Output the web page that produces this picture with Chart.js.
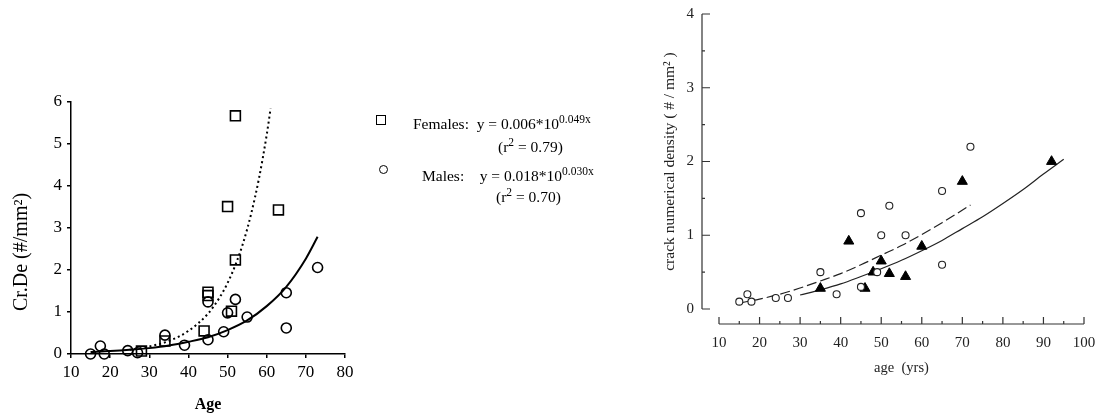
<!DOCTYPE html>
<html>
<head>
<meta charset="utf-8">
<script src="https://cdn.jsdelivr.net/npm/chart.js"></script>
<style>
  body { margin: 0; background: #fff; }
  #wrap { position: relative; width: 1096px; height: 414px; overflow: hidden; }
  canvas { position: absolute; left: 0; top: 0; }
  .lg { position: absolute; font-family: "Liberation Serif", serif; font-size: 15.5px; line-height: 15px; color: #000; white-space: pre; }
  .lg sup { font-size: 11.5px; line-height: 0; vertical-align: 6px; }
  .ytitle { position: absolute; left: -80px; top: 240px; width: 200px; height: 24px; line-height: 24px; text-align: center;
    font-family: "Liberation Serif", serif; font-size: 20px; color: #000; transform: rotate(-90deg); }
  .mk-sq { position: absolute; width: 8px; height: 8px; border: 1.6px solid #000; }
  .mk-ci { position: absolute; width: 7px; height: 7px; border: 1.4px solid #000; border-radius: 50%; }
</style>
</head>
<body>
<div id="wrap">
  <canvas id="leftChart" width="1096" height="414"></canvas>
  <canvas id="rightChart" width="1096" height="414"></canvas>

  <div class="ytitle">Cr.De (#/mm²)</div>

  <div class="mk-sq" style="left:376px; top:115px;"></div>
  <div class="lg" style="left:413px; top:116px;">Females:  y = 0.006*10<sup>0.049x</sup></div>
  <div class="lg" style="left:498px; top:139px;">(r<sup>2</sup> = 0.79)</div>
  <div class="mk-ci" style="left:379px; top:165px;"></div>
  <div class="lg" style="left:422px; top:168px;">Males:    y = 0.018*10<sup>0.030x</sup></div>
  <div class="lg" style="left:496px; top:189px;">(r<sup>2</sup> = 0.70)</div>
</div>

<script>
// left panel: Cr.De vs Age
var femaleAge = [28, 34, 44, 45, 45, 50, 51, 52, 52, 63];
var femaleDensity = [0.07, 0.31, 0.55, 1.47, 1.39, 3.51, 1.02, 2.24, 5.67, 3.43];
var maleAge = [15, 17.5, 18.5, 24.5, 27, 34, 39, 45, 45, 49, 50, 52, 55, 65, 65, 73];
var maleDensity = [0, 0.19, 0, 0.08, 0.03, 0.45, 0.21, 0.34, 1.24, 0.53, 0.98, 1.30, 0.88, 1.46, 0.62, 2.06];

// fitted curves
var femaleFitAge = [25, 30, 35, 40, 45, 48, 50, 52, 54, 56, 58, 60, 61];
var femaleFitDensity = [0.10, 0.18, 0.31, 0.55, 0.96, 1.35, 1.69, 2.12, 2.65, 3.33, 4.17, 5.22, 5.85];
var maleFitAge = [15, 20, 25, 30, 35, 40, 45, 50, 55, 60, 65, 70, 73];
var maleFitDensity = [0.05, 0.07, 0.10, 0.14, 0.20, 0.29, 0.40, 0.57, 0.80, 1.14, 1.60, 2.27, 2.79];

var leftAgeTicks = [10, 20, 30, 40, 50, 60, 70, 80];
var leftDensityTicks = [0, 1, 2, 3, 4, 5, 6];

// right panel: crack numerical density vs age
var openAge = [15, 17, 18, 24, 27, 35, 39, 45, 45, 49, 50, 52, 56, 65, 65, 72];
var openDensity = [0.1, 0.2, 0.1, 0.15, 0.15, 0.5, 0.2, 1.3, 0.3, 0.5, 1.0, 1.4, 1.0, 1.6, 0.6, 2.2];
var filledAge = [35, 42, 46, 48, 50, 52, 56, 60, 70, 92];
var filledDensity = [0.28, 0.92, 0.28, 0.5, 0.65, 0.48, 0.44, 0.85, 1.73, 2.0];

var dashedFitAge = [15, 20, 25, 30, 35, 40, 45, 50, 55, 60, 65, 72];
var dashedFitDensity = [0.08, 0.135, 0.20, 0.285, 0.38, 0.48, 0.60, 0.73, 0.86, 1.01, 1.17, 1.41];
var solidFitAge = [30, 35, 40, 45, 50, 55, 60, 65, 70, 75, 80, 85, 90, 95];
var solidFitDensity = [0.19, 0.26, 0.34, 0.44, 0.545, 0.66, 0.79, 0.93, 1.09, 1.25, 1.43, 1.62, 1.83, 2.03];

var rightAgeTicks = [10, 20, 30, 40, 50, 60, 70, 80, 90, 100];
var rightAgeMinor = [15, 25, 35, 45, 55, 65, 75, 85, 95];
var rightDensityTicks = [0, 1, 2, 3, 4];
var rightDensityMinor = [0.5, 1.5, 2.5, 3.5];

var pairs = function(xs, ys) {
  return xs.map(function(x, i) { return { x: x, y: ys[i] }; });
};

var serifLeft = "'Liberation Serif', 'Times New Roman', serif";

new Chart(document.getElementById('leftChart'), {
  type: 'scatter',
  data: {
    datasets: [{
      label: 'Females',
      data: pairs(femaleAge, femaleDensity),
      pointStyle: 'rect',
      pointRadius: 7,
      borderWidth: 1.6,
      borderColor: '#000',
      backgroundColor: 'rgba(0,0,0,0)',
      clip: false
    }, {
      label: 'Males',
      data: pairs(maleAge, maleDensity),
      pointStyle: 'circle',
      pointRadius: 5,
      borderWidth: 1.6,
      borderColor: '#000',
      backgroundColor: 'rgba(0,0,0,0)',
      clip: false
    }, {
      label: 'Females fit',
      data: pairs(femaleFitAge, femaleFitDensity),
      showLine: true,
      pointRadius: 0,
      borderColor: '#000',
      borderWidth: 2,
      borderDash: [2, 3],
      cubicInterpolationMode: 'monotone',
      clip: false
    }, {
      label: 'Males fit',
      data: pairs(maleFitAge, maleFitDensity),
      showLine: true,
      pointRadius: 0,
      borderColor: '#000',
      borderWidth: 2,
      cubicInterpolationMode: 'monotone',
      clip: false
    }]
  },
  options: {
    responsive: false,
    animation: false,
    events: [],
    layout: { padding: { left: 0, top: 102, right: 751, bottom: 0 } },
    plugins: { legend: { display: false }, tooltip: { enabled: false } },
    scales: {
      x: {
        type: 'linear',
        min: 10,
        max: 80,
        afterBuildTicks: function(s) { s.ticks = leftAgeTicks.map(function(v) { return { value: v }; }); },
        afterFit: function(s) { s.height = 60; },
        grid: { drawOnChartArea: false, color: '#000', tickLength: 4, lineWidth: 1.5 },
        border: { color: '#000', width: 1.5 },
        ticks: { color: '#000', padding: 4, maxRotation: 0, font: { family: serifLeft, size: 17 } },
        title: { display: true, text: 'Age', color: '#000', padding: { top: 0, bottom: 0 },
          font: { family: serifLeft, size: 16, weight: 'bold' } }
      },
      y: {
        min: 0,
        max: 6,
        afterBuildTicks: function(s) { s.ticks = leftDensityTicks.map(function(v) { return { value: v }; }); },
        afterFit: function(s) { s.width = 71; },
        grid: { drawOnChartArea: false, color: '#000', tickLength: 4, lineWidth: 1.5 },
        border: { color: '#000', width: 1.5 },
        ticks: { color: '#000', padding: 5, font: { family: serifLeft, size: 17 } }
      }
    }
  }
});

// the right panel has detached axes, drawn from its scales
var detachedAxes = {
  id: 'detachedAxes',
  afterDraw: function(chart) {
    var ctx = chart.ctx;
    var xs = chart.scales.x, ys = chart.scales.y;
    var axisX = chart.chartArea.left - 17;
    var axisY = chart.chartArea.bottom + 15;
    ctx.save();
    ctx.strokeStyle = '#333';
    ctx.lineWidth = 1.2;
    ctx.beginPath();
    ctx.moveTo(axisX, ys.getPixelForValue(4));
    ctx.lineTo(axisX, ys.getPixelForValue(0));
    rightDensityTicks.forEach(function(v) {
      var py = ys.getPixelForValue(v);
      ctx.moveTo(axisX, py);
      ctx.lineTo(axisX + 8, py);
    });
    rightDensityMinor.forEach(function(v) {
      var py = ys.getPixelForValue(v);
      ctx.moveTo(axisX, py);
      ctx.lineTo(axisX + 3, py);
    });
    ctx.moveTo(xs.getPixelForValue(10), axisY);
    ctx.lineTo(xs.getPixelForValue(100), axisY);
    rightAgeTicks.forEach(function(v) {
      var px = xs.getPixelForValue(v);
      ctx.moveTo(px, axisY);
      ctx.lineTo(px, axisY - 7);
    });
    rightAgeMinor.forEach(function(v) {
      var px = xs.getPixelForValue(v);
      ctx.moveTo(px, axisY);
      ctx.lineTo(px, axisY - 3);
    });
    ctx.stroke();
    ctx.restore();
  }
};

new Chart(document.getElementById('rightChart'), {
  type: 'scatter',
  data: {
    datasets: [{
      label: 'open',
      data: pairs(openAge, openDensity),
      pointStyle: 'circle',
      pointRadius: 3.5,
      borderWidth: 1.1,
      borderColor: '#222',
      backgroundColor: '#fff',
      clip: false
    }, {
      label: 'filled',
      data: pairs(filledAge, filledDensity),
      pointStyle: 'triangle',
      pointRadius: 5.8,
      borderWidth: 1,
      borderColor: '#000',
      backgroundColor: '#000',
      clip: false
    }, {
      label: 'dashed fit',
      data: pairs(dashedFitAge, dashedFitDensity),
      showLine: true,
      pointRadius: 0,
      borderColor: '#222',
      borderWidth: 1.2,
      borderDash: [10, 4],
      cubicInterpolationMode: 'monotone'
    }, {
      label: 'solid fit',
      data: pairs(solidFitAge, solidFitDensity),
      showLine: true,
      pointRadius: 0,
      borderColor: '#222',
      borderWidth: 1.2,
      cubicInterpolationMode: 'monotone'
    }]
  },
  options: {
    responsive: false,
    animation: false,
    events: [],
    layout: { padding: { left: 640, top: 14, right: 12, bottom: 0 } },
    plugins: { legend: { display: false }, tooltip: { enabled: false } },
    scales: {
      x: {
        type: 'linear',
        min: 10,
        max: 100,
        afterBuildTicks: function(s) { s.ticks = rightAgeTicks.map(function(v) { return { value: v }; }); },
        afterFit: function(s) { s.height = 105; s.paddingLeft = 0; s.paddingRight = 0; },
        grid: { display: false },
        border: { display: false },
        ticks: { color: '#222', padding: 17, maxRotation: 0, font: { family: serifLeft, size: 15 } },
        title: { display: true, text: 'age  (yrs)', color: '#222', padding: { top: 0, bottom: 37 },
          font: { family: serifLeft, size: 14.5 } }
      },
      y: {
        min: 0,
        max: 4,
        afterBuildTicks: function(s) { s.ticks = rightDensityTicks.map(function(v) { return { value: v }; }); },
        afterFit: function(s) { s.width = 79; s.paddingTop = 0; s.paddingBottom = 0; },
        grid: { display: false },
        border: { display: false },
        ticks: { color: '#222', padding: 17, font: { family: serifLeft, size: 15 } },
        title: { display: true, text: 'crack numerical density ( # / mm² )', color: '#222', padding: { top: 21, bottom: 0 },
          font: { family: serifLeft, size: 15.5 } }
      }
    }
  },
  plugins: [detachedAxes]
});
</script>
</body>
</html>
